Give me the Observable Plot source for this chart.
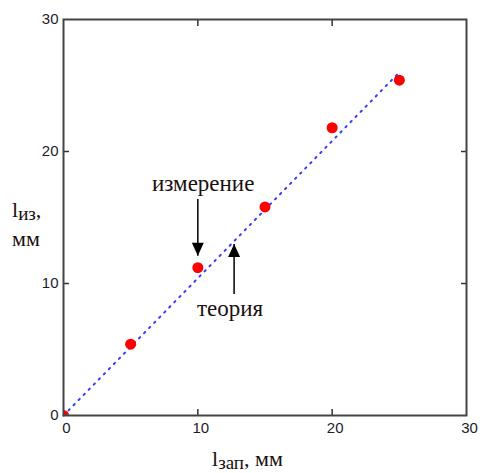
<!DOCTYPE html>
<html><head><meta charset="utf-8">
<script src="https://cdn.jsdelivr.net/npm/d3@7"></script>
<script src="https://cdn.jsdelivr.net/npm/@observablehq/plot@0.6"></script>
<style>body{margin:0;background:#fff}</style>
</head><body><div id="chart"></div>
<script>
const lenSet = [0, 5, 10, 15, 20, 25];
const lenMeasured = [0, 5.4, 11.2, 15.8, 21.8, 25.4];
const theoryX = [0, 25];
const theoryY = [0, 26];
const ticks = [0, 10, 20, 30];
const innerTicks = [10, 20];
const noteText = ["измерение", "теория"];
const noteX = [10.4, 12.4];
const noteY = [17.6, 8.1];
const arrowX = [10, 12.7];
const arrowFrom = [16.4, 9.2];
const arrowTo = [12.1, 13.0];

const measured = lenSet.map((x, i) => ({x, y: lenMeasured[i]}));
const theory = theoryX.map((x, i) => ({x, y: theoryY[i]}));
const notes = noteText.map((t, i) => ({t, x: noteX[i], y: noteY[i]}));
const arrows = arrowX.map((x, i) => ({x, y1: arrowFrom[i], y2: arrowTo[i], down: arrowTo[i] < arrowFrom[i]}));

const downTri = {draw(c){ c.moveTo(0,0); c.lineTo(-6,-13); c.lineTo(6,-13); c.closePath(); }};
const upTri = {draw(c){ c.moveTo(0,0); c.lineTo(-6,13); c.lineTo(6,13); c.closePath(); }};
const serif = "'Liberation Serif', 'Times New Roman', serif";
const blank = () => "";

const chart = Plot.plot({
  width: 480, height: 473,
  marginLeft: 63, marginRight: 14, marginTop: 19, marginBottom: 58,
  x: {domain: [0, 30]},
  y: {domain: [0, 30]},
  style: {fontFamily: "'Liberation Sans', Arial, sans-serif", fontSize: "15px", color: "#1c1c2c", background: "white"},
  marks: [
    Plot.line(theory, {x: "x", y: "y", stroke: "#3a3aff", strokeWidth: 2, strokeDasharray: "1.6 5.6"}),
    Plot.dot(measured, {x: "x", y: "y", r: 5.5, fill: "#ff0000", stroke: "none", clip: true}),
    Plot.link(arrows, {x1: "x", x2: "x", y1: "y1", y2: "y2", stroke: "black", strokeWidth: 1.5}),
    Plot.dot(arrows.filter(d => d.down), {x: "x", y: "y2", symbol: downTri, fill: "black", stroke: "none"}),
    Plot.dot(arrows.filter(d => !d.down), {x: "x", y: "y2", symbol: upTri, fill: "black", stroke: "none"}),
    Plot.text(notes, {x: "x", y: "y", text: "t", fontFamily: serif, fontSize: 23, fill: "#1a1010"}),
    Plot.axisX({ticks, tickSize: 0, tickPadding: 7, dx: 3, label: null}),
    Plot.axisY({ticks, tickSize: 0, tickPadding: 5, label: null}),
    Plot.axisX({anchor: "bottom", ticks: innerTicks, tickSize: -6, tickFormat: blank, label: null, stroke: "#333", strokeWidth: 1.5}),
    Plot.axisX({anchor: "top", ticks: innerTicks, tickSize: -6, tickFormat: blank, label: null, stroke: "#333", strokeWidth: 1.5}),
    Plot.axisY({anchor: "left", ticks: innerTicks, tickSize: -6, tickFormat: blank, label: null, stroke: "#333", strokeWidth: 1.5}),
    Plot.axisY({anchor: "right", ticks: innerTicks, tickSize: -6, tickFormat: blank, label: null, stroke: "#333", strokeWidth: 1.5}),
    Plot.frame({stroke: "#444", strokeWidth: 2})
  ]
});
document.getElementById("chart").append(chart);

const svg = d3.select(chart);
function label(x, y, main, sub, rest) {
  const t = svg.append("text").attr("x", x).attr("y", y).attr("text-anchor", "start")
    .attr("font-family", serif).attr("font-size", 22).attr("fill", "#1a1010");
  t.append("tspan").text(main);
  t.append("tspan").attr("font-size", 19).attr("dy", 3).text(sub);
  if (rest) t.append("tspan").attr("dy", -3).text(rest);
}
label(12, 217, "l", "из", ",");
svg.append("text").attr("x", 12).attr("y", 246).attr("text-anchor", "start").attr("font-family", serif)
  .attr("font-size", 22).attr("fill", "#1a1010").text("мм");
label(212, 466, "l", "зап", ", мм");
</script></body></html>
